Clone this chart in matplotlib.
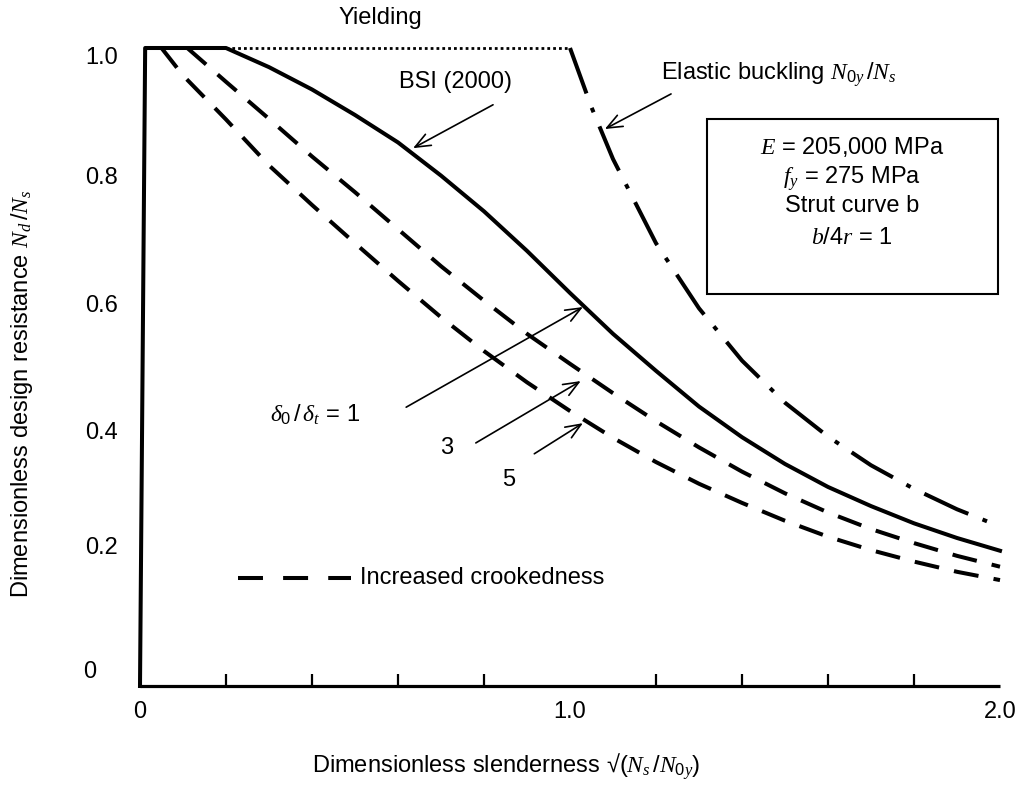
import matplotlib
matplotlib.use("Agg")
import matplotlib.pyplot as plt
import matplotlib.transforms as mtransforms
from matplotlib.patches import Rectangle

plt.rcParams['font.family'] = ['Liberation Sans', 'DejaVu Sans']
plt.rcParams['mathtext.fontset'] = 'custom'
plt.rcParams['mathtext.it'] = 'Liberation Serif:italic'
plt.rcParams['mathtext.rm'] = 'Liberation Sans'
plt.rcParams['mathtext.bf'] = 'Liberation Sans:bold'

# ---- data ----
bsi_x = [0.0, 0.012, 0.2, 0.3, 0.4, 0.5, 0.6, 0.7, 0.8, 0.9, 1.0, 1.1, 1.2, 1.3, 1.4,
         1.5, 1.6, 1.7, 1.8, 1.9, 2.0]
bsi_y = [0.0, 1.0, 1.0, 0.97, 0.935, 0.895, 0.852, 0.8, 0.744, 0.682, 0.616, 0.552,
         0.494, 0.438, 0.39, 0.348, 0.312, 0.282, 0.255, 0.232, 0.212]

crook3_x = [0.11, 0.2, 0.3, 0.4, 0.5, 0.6, 0.7, 0.8, 0.9, 1.0, 1.1, 1.2, 1.3, 1.4,
            1.5, 1.6, 1.7, 1.8, 1.9, 2.0]
crook3_y = [1.0, 0.947, 0.889, 0.83, 0.774, 0.716, 0.658, 0.604, 0.552, 0.505, 0.459,
            0.415, 0.374, 0.336, 0.302, 0.272, 0.246, 0.224, 0.204, 0.187]

crook5_x = [0.05, 0.1, 0.2, 0.3, 0.4, 0.5, 0.6, 0.7, 0.8, 0.9, 1.0, 1.1, 1.2, 1.3, 1.4,
            1.5, 1.6, 1.7, 1.8, 1.9, 2.0]
crook5_y = [1.0, 0.957, 0.888, 0.816, 0.754, 0.694, 0.635, 0.578, 0.525, 0.476, 0.431,
            0.389, 0.351, 0.317, 0.287, 0.259, 0.234, 0.213, 0.195, 0.179, 0.166]

elastic_x = [1.0, 1.05, 1.1, 1.2, 1.3, 1.4, 1.5, 1.6, 1.7, 1.8, 1.9, 2.0]
elastic_y = [1.0, 0.907, 0.826, 0.694, 0.592, 0.51, 0.444, 0.391, 0.346, 0.309, 0.277, 0.25]

yield_x = [0.2, 1.0]
yield_y = [1.0, 1.0]

legend_x = [0.228, 0.49]
legend_y = [0.169, 0.169]

x_major = [0.0, 1.0, 2.0]
x_major_labels = ['0', '1.0', '2.0']
x_minor = [0.2, 0.4, 0.6, 0.8, 1.0, 1.2, 1.4, 1.6, 1.8, 2.0]
y_major = [0.0, 0.2, 0.4, 0.6, 0.8, 1.0]
y_major_labels = ['0', '0.2', '0.4', '0.6', '0.8', '1.0']
y_minor = [0.2, 0.4, 0.6, 0.8]

FS = 17

fig = plt.figure(figsize=(10.23, 7.87), dpi=100)
ax = fig.add_axes([140 / 1023, 1 - 686 / 787, 860 / 1023, 638 / 787])
ax.set_xlim(0, 2.0)
ax.set_ylim(0, 1.0)

for s in ['top', 'right', 'left']:
    ax.spines[s].set_visible(False)
ax.spines['bottom'].set_linewidth(2.3)
ax.spines['bottom'].set_capstyle('butt')

lw = 2.9
ax.plot(bsi_x, bsi_y, color='black', lw=lw, solid_joinstyle='round', clip_on=False)
ax.plot(crook3_x, crook3_y, color='black', lw=lw, dashes=(6.2, 3.8), dash_capstyle='butt', clip_on=False)
ax.plot(crook5_x, crook5_y, color='black', lw=lw, dashes=(6.2, 3.8), dash_capstyle='butt', clip_on=False)
ax.plot(elastic_x, elastic_y, color='black', lw=lw, dashes=(12, 3.8, 1.2, 3.8), dash_capstyle='butt', clip_on=False)
ax.plot(yield_x, yield_y, color='black', lw=2.0, dashes=(1.0, 1.1), dash_capstyle='butt', clip_on=False)
ax.plot(legend_x, legend_y, color='black', lw=lw, dashes=(6.2, 5.0), dash_capstyle='butt', clip_on=False)

# ticks
ax.set_xticks(x_major)
ax.set_xticklabels(x_major_labels, fontsize=FS)
ax.set_xticks(x_minor, minor=True)
ax.set_yticks(y_major)
ax.set_yticklabels(y_major_labels, fontsize=FS)
ax.set_yticks(y_minor, minor=True)
ax.tick_params(axis='x', which='major', length=0, pad=11)
ax.tick_params(axis='x', which='minor', direction='in', length=9, width=1.6)
ax.tick_params(axis='y', which='major', length=0, pad=16)
ax.tick_params(axis='y', which='minor', direction='in', length=11, width=1.6)

# small positional quirks of the reference's y tick labels
offsets = {0: (-22, 16), 1: (0, 13), 5: (0, -7)}
for i, lab in enumerate(ax.get_yticklabels()):
    if i in offsets:
        dx, dy = offsets[i]
        lab.set_transform(lab.get_transform() +
                          mtransforms.ScaledTranslation(dx / 100, dy / 100, fig.dpi_scale_trans))

# axis titles
fig.text(506 / 1023, 1 - 767 / 787, r'Dimensionless slenderness √($N_s\,/N_{0y}$)',
         ha='center', va='center', fontsize=FS)
fig.text(22 / 1023, 1 - 394 / 787, r'Dimensionless design resistance $N_d\,/N_s$',
         ha='center', va='center', rotation=90, fontsize=FS)

# annotations
ax.text(0.558, 1.047, 'Yielding', ha='center', va='center', fontsize=FS, clip_on=False)
ax.text(0.733, 0.947, 'BSI (2000)', ha='center', va='center', fontsize=FS)
ax.text(1.212, 0.959, r'Elastic buckling $N_{0y}\,/N_s$', ha='left', va='center', fontsize=FS)

ap = dict(arrowstyle='->,head_length=1.1,head_width=0.45', lw=1.2, color='black',
          shrinkA=0, shrinkB=0)
ax.annotate('', xy=(0.635, 0.843), xytext=(0.821, 0.911), arrowprops=ap)
ax.annotate('', xy=(1.081, 0.873), xytext=(1.235, 0.928), arrowprops=ap)
ax.annotate('', xy=(1.03, 0.594), xytext=(0.619, 0.437), arrowprops=ap)
ax.annotate('', xy=(1.025, 0.478), xytext=(0.781, 0.381), arrowprops=ap)
ax.annotate('', xy=(1.03, 0.412), xytext=(0.917, 0.364), arrowprops=ap)

ax.text(0.302, 0.425, r'$\delta_0\,/\,\delta_t$ = 1', ha='left', va='center', fontsize=FS)
ax.text(0.712, 0.373, '3', ha='center', va='center', fontsize=FS)
ax.text(0.858, 0.323, '5', ha='center', va='center', fontsize=FS)
ax.text(0.512, 0.169, 'Increased crookedness', ha='left', va='center', fontsize=FS)

# parameter box
ax.add_patch(Rectangle((1.318, 0.614), 0.677, 0.275, fill=False, lw=1.5,
                       edgecolor='black', clip_on=False))
box_lines = [r'$E$ = 205,000 MPa', r'$f_y$ = 275 MPa', 'Strut curve b', r'$b$/4$r$ = 1']
box_y = [0.845, 0.796, 0.752, 0.702]
for t, yy in zip(box_lines, box_y):
    ax.text(1.655, yy, t, ha='center', va='center', fontsize=FS)

fig.savefig('out.png', dpi=100)
